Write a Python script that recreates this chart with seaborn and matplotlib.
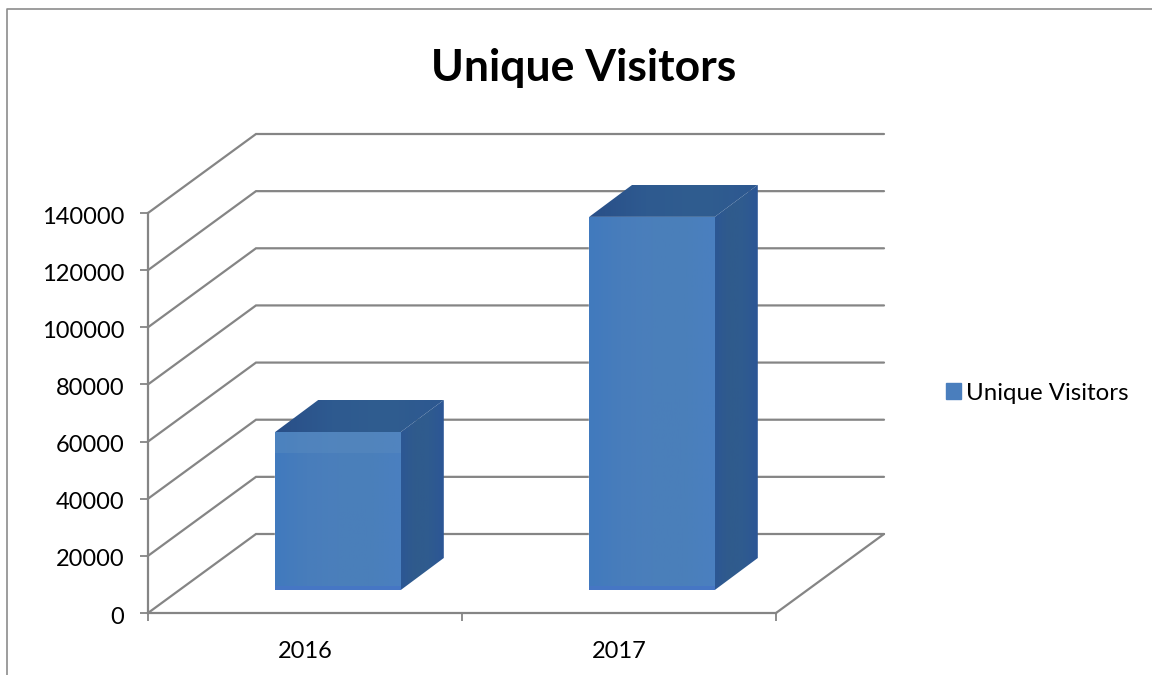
#!/usr/bin/env python3
# plot.py - Unique Visitors 3D-look column chart, seaborn bars with drawn depth faces
import pandas as pd
import numpy as np
import matplotlib
matplotlib.use("Agg")
import matplotlib.pyplot as plt
from matplotlib.colors import LinearSegmentedColormap
from matplotlib.lines import Line2D
from matplotlib.patches import Polygon, Rectangle
from matplotlib.transforms import ScaledTranslation
import seaborn as sns

years = ["2016", "2017"]
visitors = [55300, 130600]
y_ticks = [0, 20000, 40000, 60000, 80000, 100000, 120000, 140000]
series_name = "Unique Visitors"

W, H = 1152, 675
LINE = "#858585"
FRONT = "#4a7ebd"
front_cmap = LinearSegmentedColormap.from_list("front", ["#417abe", "#487dbb", "#4b7fbb", "#4a7fba", "#4a80c0"])
side_cmap = LinearSegmentedColormap.from_list("side", ["#2c5794", "#305b8c", "#2f5b8f", "#2c5696"])
top_cmap = LinearSegmentedColormap.from_list("top", ["#294f88", "#2e5a90", "#305d8f", "#2d5891"])

sns.set_theme(style="white")
plt.rcParams["font.family"] = ["Lato", "DejaVu Sans"]

fig = plt.figure(figsize=(W / 100, H / 100), dpi=100)
df = pd.DataFrame({"year": years, "visitors": visitors})

# front plane of the chart box holds the axes, ticks and labels
ax = fig.add_axes([148 / W, (H - 613) / H, 628 / W, 400 / H])
ax.set_xlim(-0.5, 1.5)
ax.set_ylim(0, 140000)
sns.despine(ax=ax)
for side in ["left", "bottom"]:
    ax.spines[side].set_color(LINE)
    ax.spines[side].set_linewidth(1.6)
ax.set_yticks(y_ticks)
ax.set_xticks([-0.5, 0.5, 1.5])
ax.set_xticklabels([])
ax.set_xticks([0, 1], labels=years, minor=True)
ax.tick_params(axis="both", which="major", length=6, width=1.3, color=LINE, bottom=True, left=True)
ax.tick_params(axis="y", labelsize=17, labelcolor="black", pad=11)
ax.tick_params(axis="x", which="minor", length=0, labelsize=17, labelcolor="black", pad=20)
# value labels sit a touch below their ticks
label_drop = ScaledTranslation(0, -2 / 100, fig.dpi_scale_trans)
for lab in ax.get_yticklabels():
    lab.set_transform(lab.get_transform() + label_drop)

# depth of the box in data units
box_dx = 108 / 314
box_dy = 79 / 400 * 140000
for v in y_ticks:
    ax.plot([-0.5, -0.5 + box_dx, 1.5 + box_dx], [v, v + box_dy, v + box_dy],
            color=LINE, lw=1.6, clip_on=False, solid_joinstyle="miter")
ax.plot([1.5, 1.5 + box_dx], [0, box_dy], color=LINE, lw=1.6, clip_on=False)

# bars stand a little inside the box, on their own axes (taller so the top faces fit)
bar_ymax = 150000
ax_bars = fig.add_axes([181 / W, (H - 590) / H, 628 / W, 400 * bar_ymax / 140000 / H])
sns.barplot(data=df, x="year", y="visitors", color=FRONT, saturation=1, width=0.4, ax=ax_bars)
ax_bars.set_xlim(-0.5, 1.5)
ax_bars.set_ylim(0, bar_ymax)
ax_bars.axis("off")

bar_dx = 43 / 314
bar_dy = 32 / 400 * 140000
half = 0.2
shade = np.linspace(0, 1, 64).reshape(1, -1)


def shaded_face(points, cmap):
    # paint a left to right shade, clipped to the face outline
    face = Polygon(points, closed=True, facecolor="none", lw=0)
    ax_bars.add_patch(face)
    xs = [p[0] for p in points]
    ys = [p[1] for p in points]
    im = ax_bars.imshow(shade, cmap=cmap, aspect="auto", extent=(min(xs), max(xs), min(ys), max(ys)), zorder=3)
    im.set_clip_path(face)


for i, v in enumerate(visitors):
    right = i + half
    left = i - half
    shaded_face([(right, 0), (right + bar_dx, bar_dy), (right + bar_dx, v + bar_dy), (right, v)], side_cmap)
    shaded_face([(left, v), (left + bar_dx, v + bar_dy), (right + bar_dx, v + bar_dy), (right, v)], top_cmap)
    shaded_face([(left, 0), (right, 0), (right, v), (left, v)], front_cmap)
    # thin brighter lip along the foot of the front face
    ax_bars.add_patch(Rectangle((left, 0), 0.4, 1300, color="#4676c4", lw=0, zorder=4))
# the lower bar shows a paler band along its top
ax_bars.add_patch(Rectangle((0 - half, visitors[0] - 7300), 0.4, 7300, color="#5a8cc0", alpha=0.45, lw=0, zorder=4))
ax_bars.set_xlim(-0.5, 1.5)
ax_bars.set_ylim(0, bar_ymax)

handles = [Rectangle((0, 0), 1, 1, color=FRONT)]
fig.legend(handles, [series_name], loc="center left", bbox_to_anchor=(946 / W, (H - 393) / H), frameon=False,
           fontsize=17.3, handlelength=0.62, handleheight=0.62, handletextpad=0.2, labelcolor="black",
           borderpad=0, borderaxespad=0)

fig.text(584 / W, (H - 68) / H, series_name, ha="center", va="center", fontsize=32, fontweight="bold", color="black")

# outer chart frame, cut off by the picture on the right and bottom
fig.add_artist(Line2D([7 / W, 7 / W, 1], [0, (H - 9) / H, (H - 9) / H], color="#8c8c8c", lw=1.2))

fig.savefig("out.png", dpi=100)
